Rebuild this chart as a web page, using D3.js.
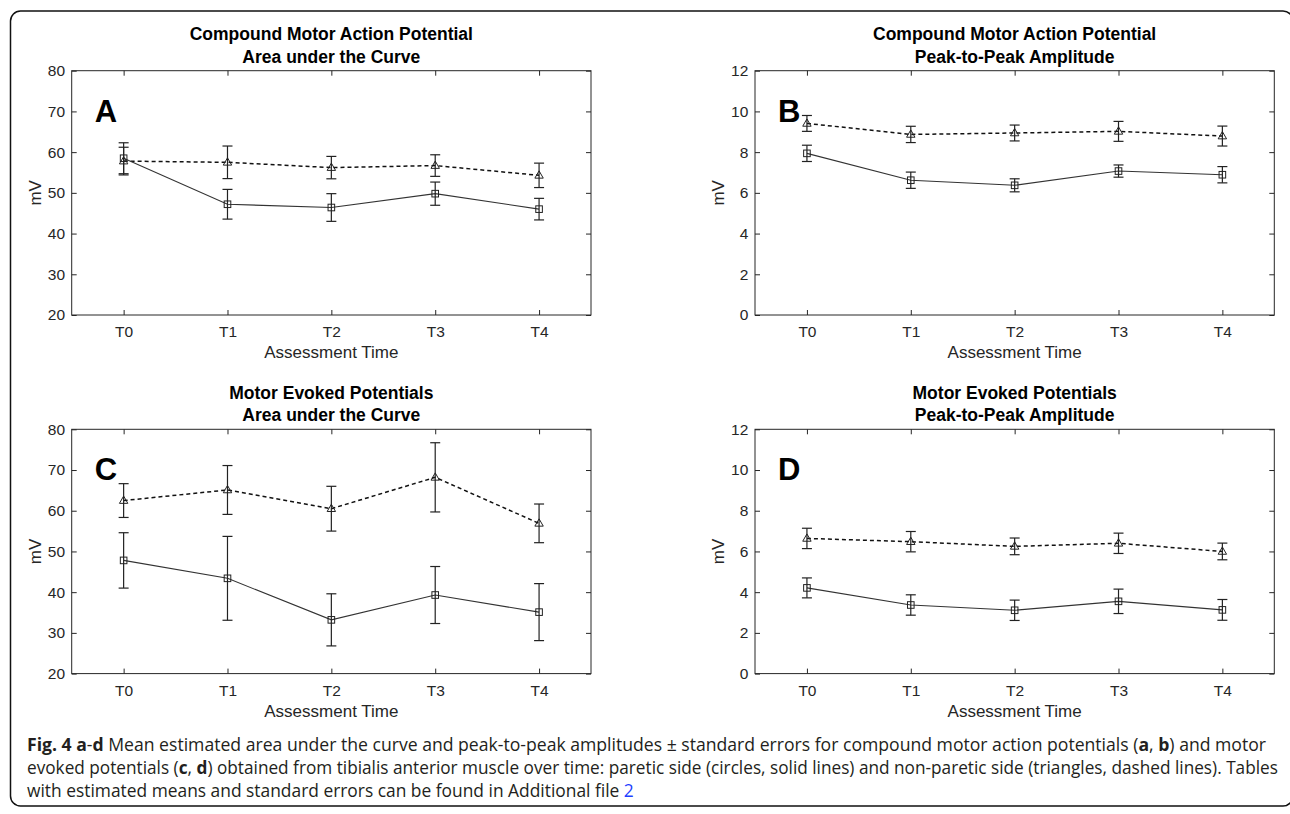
<!DOCTYPE html>
<html lang="en">
<head>
<meta charset="utf-8">
<title>Fig. 4 CMAP / MEP</title>
<script src="https://cdnjs.cloudflare.com/ajax/libs/d3/7.8.5/d3.min.js"></script>
<style>
  body { margin: 0; background: #fff; }
  svg { display: block; }
  .caption { font-family: "Open Sans", "Noto Sans", sans-serif; font-size: 18px; fill: #231f20; }
</style>
</head>
<body>
<div id="fig"></div>
<script>
// time points and y ticks
var timepoints = ["T0", "T1", "T2", "T3", "T4"];
var aucTicks = [20, 30, 40, 50, 60, 70, 80];
var ampTicks = [0, 2, 4, 6, 8, 10, 12];

// A: CMAP area under the curve
var cmapAucParetic      = [58.5, 47.2, 46.4, 49.8, 46.0];
var cmapAucPareticSE    = [3.8, 3.65, 3.4, 2.85, 2.65];
var cmapAucNonParetic   = [57.8, 57.5, 56.2, 56.7, 54.3];
var cmapAucNonPareticSE = [3.4, 4.0, 2.75, 2.65, 3.0];

// B: CMAP peak-to-peak
var cmapAmpParetic      = [7.94, 6.62, 6.37, 7.07, 6.89];
var cmapAmpPareticSE    = [0.4, 0.4, 0.32, 0.3, 0.4];
var cmapAmpNonParetic   = [9.41, 8.87, 8.94, 9.02, 8.79];
var cmapAmpNonPareticSE = [0.39, 0.4, 0.39, 0.49, 0.49];

// C: MEP area under the curve
var mepAucParetic      = [47.8, 43.4, 33.2, 39.3, 35.1];
var mepAucPareticSE    = [6.8, 10.3, 6.4, 7.0, 7.0];
var mepAucNonParetic   = [62.5, 65.1, 60.5, 68.2, 56.9];
var mepAucNonPareticSE = [4.15, 6.0, 5.5, 8.5, 4.75];

// D: MEP peak-to-peak
var mepAmpParetic      = [4.21, 3.37, 3.11, 3.55, 3.13];
var mepAmpPareticSE    = [0.49, 0.5, 0.5, 0.6, 0.51];
var mepAmpNonParetic   = [6.64, 6.48, 6.25, 6.40, 6.00];
var mepAmpNonPareticSE = [0.5, 0.5, 0.41, 0.5, 0.41];

var W = 1290, H = 814;
var svg = d3.select("#fig").append("svg").attr("width", W).attr("height", H);
var FONT = "'Liberation Sans', Arial, sans-serif";

// outer rounded frame, its right side runs just off the page
svg.append("rect")
    .attr("x", 10.5).attr("y", 11).attr("width", 1282.5).attr("height", 795)
    .attr("rx", 10).attr("fill", "none").attr("stroke", "#111").attr("stroke-width", 1.5);

var panels = [
  { letter: "A", title: ["Compound Motor Action Potential", "Area under the Curve"],
    x0: 71.7, y0: 70.7, ticks: aucTicks,
    sol: cmapAucParetic, solSE: cmapAucPareticSE, dash: cmapAucNonParetic, dashSE: cmapAucNonPareticSE },
  { letter: "B", title: ["Compound Motor Action Potential", "Peak-to-Peak Amplitude"],
    x0: 755, y0: 70.7, ticks: ampTicks,
    sol: cmapAmpParetic, solSE: cmapAmpPareticSE, dash: cmapAmpNonParetic, dashSE: cmapAmpNonPareticSE },
  { letter: "C", title: ["Motor Evoked Potentials", "Area under the Curve"],
    x0: 71.7, y0: 429.3, ticks: aucTicks,
    sol: mepAucParetic, solSE: mepAucPareticSE, dash: mepAucNonParetic, dashSE: mepAucNonPareticSE },
  { letter: "D", title: ["Motor Evoked Potentials", "Peak-to-Peak Amplitude"],
    x0: 755, y0: 429.3, ticks: ampTicks,
    sol: mepAmpParetic, solSE: mepAmpPareticSE, dash: mepAmpNonParetic, dashSE: mepAmpNonPareticSE }
];

var pw = 519.3, ph = 244.3;

panels.forEach(function (p) {
  var g = svg.append("g").attr("transform", "translate(" + p.x0 + "," + p.y0 + ")");

  var x = d3.scaleLinear().domain([-0.5, 4.5]).range([0, pw]);
  var y = d3.scaleLinear().domain(d3.extent(p.ticks)).range([ph, 0]);
  var idx = d3.range(timepoints.length);

  // axes, ticks inward like matlab
  var bottom = g.append("g").attr("transform", "translate(0," + ph + ")")
    .call(d3.axisBottom(x).tickValues(idx).tickFormat(function (i) { return timepoints[i]; })
      .tickSizeInner(-5).tickSizeOuter(0));
  var top = g.append("g")
    .call(d3.axisTop(x).tickValues(idx).tickFormat("").tickSizeInner(-5).tickSizeOuter(0));
  var left = g.append("g")
    .call(d3.axisLeft(y).tickValues(p.ticks).tickSizeInner(-5).tickSizeOuter(0).tickPadding(6.7));
  var right = g.append("g").attr("transform", "translate(" + pw + ",0)")
    .call(d3.axisRight(y).tickValues(p.ticks).tickFormat("").tickSizeInner(-5).tickSizeOuter(0));
  [bottom, top, left, right].forEach(function (a) {
    a.select(".domain").remove();
    a.selectAll("line").attr("stroke", "#262626");
    a.selectAll("text").style("font-family", FONT).style("font-size", "15.5px").attr("fill", "#262626");
  });
  bottom.selectAll("text").attr("dy", null).attr("y", 22.3);

  g.append("rect").attr("width", pw).attr("height", ph)
    .attr("fill", "none").attr("stroke", "#262626").attr("stroke-width", 1);

  // titles and labels
  g.append("text").attr("x", pw / 2).attr("y", -30.5).attr("text-anchor", "middle")
    .style("font", "bold 17.5px " + FONT).text(p.title[0]);
  g.append("text").attr("x", pw / 2).attr("y", -8).attr("text-anchor", "middle")
    .style("font", "bold 17.5px " + FONT).text(p.title[1]);
  g.append("text").attr("x", pw / 2).attr("y", ph + 43.3).attr("text-anchor", "middle")
    .style("font", "17px " + FONT).attr("fill", "#262626")
    .text("Assessment Time");
  g.append("text").attr("transform", "translate(-31," + (ph / 2) + ") rotate(-90)")
    .attr("text-anchor", "middle")
    .style("font", "17px " + FONT).attr("fill", "#262626").text("mV");
  g.append("text").attr("x", 23).attr("y", 51.2)
    .style("font", "bold 31px " + FONT).text(p.letter);

  var line = d3.line().x(function (d, i) { return x(i); }).y(function (d) { return y(d); });

  g.append("path").datum(p.dash).attr("d", line)
    .attr("fill", "none").attr("stroke", "#111").attr("stroke-width", 1.5).attr("stroke-dasharray", "4,3");
  g.append("path").datum(p.sol).attr("d", line)
    .attr("fill", "none").attr("stroke", "#333").attr("stroke-width", 1.1);

  // error bars
  function errBars(vals, se) {
    var eb = g.append("g").attr("stroke", "#222").attr("stroke-width", 1.2);
    vals.forEach(function (v, i) {
      var cx = x(i), yt = y(v + se[i]), yb = y(v - se[i]);
      eb.append("line").attr("x1", cx).attr("x2", cx).attr("y1", yt).attr("y2", yb);
      eb.append("line").attr("x1", cx - 5).attr("x2", cx + 5).attr("y1", yt).attr("y2", yt);
      eb.append("line").attr("x1", cx - 5).attr("x2", cx + 5).attr("y1", yb).attr("y2", yb);
    });
  }
  errBars(p.dash, p.dashSE);
  errBars(p.sol, p.solSE);

  // markers
  g.selectAll(".sq").data(p.sol).enter().append("rect")
    .attr("x", function (d, i) { return x(i) - 3.3; })
    .attr("y", function (d) { return y(d) - 3.3; })
    .attr("width", 6.6).attr("height", 6.6)
    .attr("fill", "none").attr("stroke", "#222").attr("stroke-width", 1);
  g.selectAll(".tri").data(p.dash).enter().append("path")
    .attr("transform", function (d, i) { return "translate(" + x(i) + "," + y(d) + ")"; })
    .attr("d", "M0,-4.5L4.2,2.8L-4.2,2.8Z")
    .attr("fill", "none").attr("stroke", "#222").attr("stroke-width", 1);
});

// caption, each line squeezed to the width it has in the reference
var capLines = [
  { y: 750.5, len: 1240, parts: [
    ["Fig. 4 ", 700], ["a", 700], ["-", 400], ["d", 700],
    [" Mean estimated area under the curve and peak-to-peak amplitudes \u00b1 standard errors for compound motor action potentials (", 400],
    ["a", 700], [", ", 400], ["b", 700], [") and motor", 400]] },
  { y: 774, len: 1251, parts: [
    ["evoked potentials (", 400], ["c", 700], [", ", 400], ["d", 700],
    [") obtained from tibialis anterior muscle over time: paretic side (circles, solid lines) and non-paretic side (triangles, dashed lines). Tables", 400]] },
  { y: 797, len: 607, parts: [
    ["with estimated means and standard errors can be found in Additional file ", 400], ["2", 400, "#1f3fff"]] }
];
capLines.forEach(function (l) {
  var t = svg.append("text").attr("class", "caption").attr("x", 0).attr("y", 0);
  l.parts.forEach(function (pt) {
    var s = t.append("tspan").attr("font-weight", pt[1]).text(pt[0]);
    if (pt[2]) s.attr("fill", pt[2]);
  });
  var natural = t.node().getComputedTextLength();
  t.attr("transform", "translate(27," + l.y + ") scale(" + (l.len / natural) + ",1)");
});
</script>
</body>
</html>
